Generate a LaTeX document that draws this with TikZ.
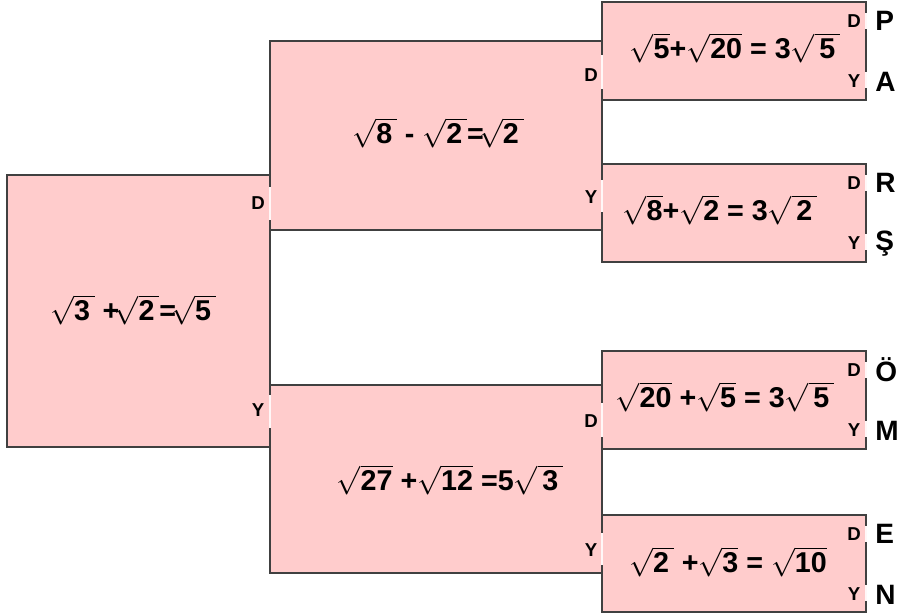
\documentclass[tikz,border=0pt]{standalone}
\usepackage{fix-cm}
\usepackage{fontspec}
\setmainfont{Liberation Sans}
\usetikzlibrary{calc}
\definecolor{boxpink}{RGB}{255,204,204}
\definecolor{boxline}{RGB}{64,64,64}
\newcommand\rt[1]{\sqrt{\mbox{#1\rule[-0.12em]{0pt}{0.9em}}}}
\tikzset{
 box/.style={draw=boxline,fill=boxpink,line width=1.1pt},
 gap/.style={draw=white!85!boxpink,line width=1.6pt},
 eq/.style={font=\fontsize{21.5}{25}\selectfont\bfseries,inner sep=0pt},
 side/.style={font=\fontsize{14}{16}\selectfont\bfseries,inner sep=0pt},
 leaf/.style={font=\fontsize{21}{24}\selectfont\bfseries,inner sep=0pt}
}

\begin{document}
\begin{tikzpicture}[x=0.75pt,y=-0.75pt]
 \useasboundingbox (0,0) rectangle (900,616);
 % boxes
 \draw[box] (7,175) rectangle (270,447);
 \draw[box] (270,41) rectangle (602,230);
 \draw[box] (270,385) rectangle (602,573);
 \draw[box] (602,2) rectangle (866,100);
 \draw[box] (602,164) rectangle (866,262);
 \draw[box] (602,351) rectangle (866,449);
 \draw[box] (602,515) rectangle (866,612);
 % openings between the boxes
 \draw[gap] (270,187)--(270,220) (270,395)--(270,428);
 \draw[gap] (602,55)--(602,89) (602,180)--(602,212);
 \draw[gap] (602,403)--(602,437) (602,533)--(602,565);
 \foreach \t in {2,164,351,515}
  \draw[gap] (866,\t+11)--(866,\t+27) (866,\t+70)--(866,\t+86);
 % equations
 \node[eq] (eqroot) at (133,310) {$\rt{3\,}$ +$\!\rt{2\,}$=$\!\rt{5\,}$};
 \node[eq] (eqtop) at (438,133) {$\rt{8\,}$ - $\rt{2\,}$=$\!\rt{2\,}$};
 \node[eq] (eqbot) at (450,480) {$\rt{27}$ +$\rt{12}$ =5$\rt{\,3\,}$};
 \node[eq] (eqpa) at (735,48) {$\rt{5}$+$\rt{20}$ = 3$\rt{\,5\,}$};
 \node[eq] (eqrs) at (720,210) {$\rt{8}$+$\rt{2}$ = 3$\rt{\,2\,}$};
 \node[eq] (eqom) at (725,397) {$\rt{20}$ +$\rt{5}$ = 3$\rt{\,5\,}$};
 \node[eq] (eqen) at (728,562) {$\rt{2\,}$ +$\rt{3}$ = $\rt{10}$};
 % D / Y labels
 \node[side] (rootd) at (258,203) {D};
 \node[side] (rooty) at (258,410) {Y};
 \node[side] (topd) at (591,75) {D};
 \node[side] (topy) at (591,197) {Y};
 \node[side] (botd) at (591,421) {D};
 \node[side] (boty) at (591,550) {Y};
 \foreach \t/\u/\l in {2/P/A,164/R/Ş,351/Ö/M,515/E/N}{
  \node[side] (d\t) at (854,\t+19) {D};
  \node[side] (y\t) at (854,\t+79) {Y};
  \node[leaf,anchor=west] (u\t) at (875,\t+19) {\u};
  \node[leaf,anchor=west] (l\t) at (875,\t+80) {\l};
 }
\end{tikzpicture}
\end{document}
